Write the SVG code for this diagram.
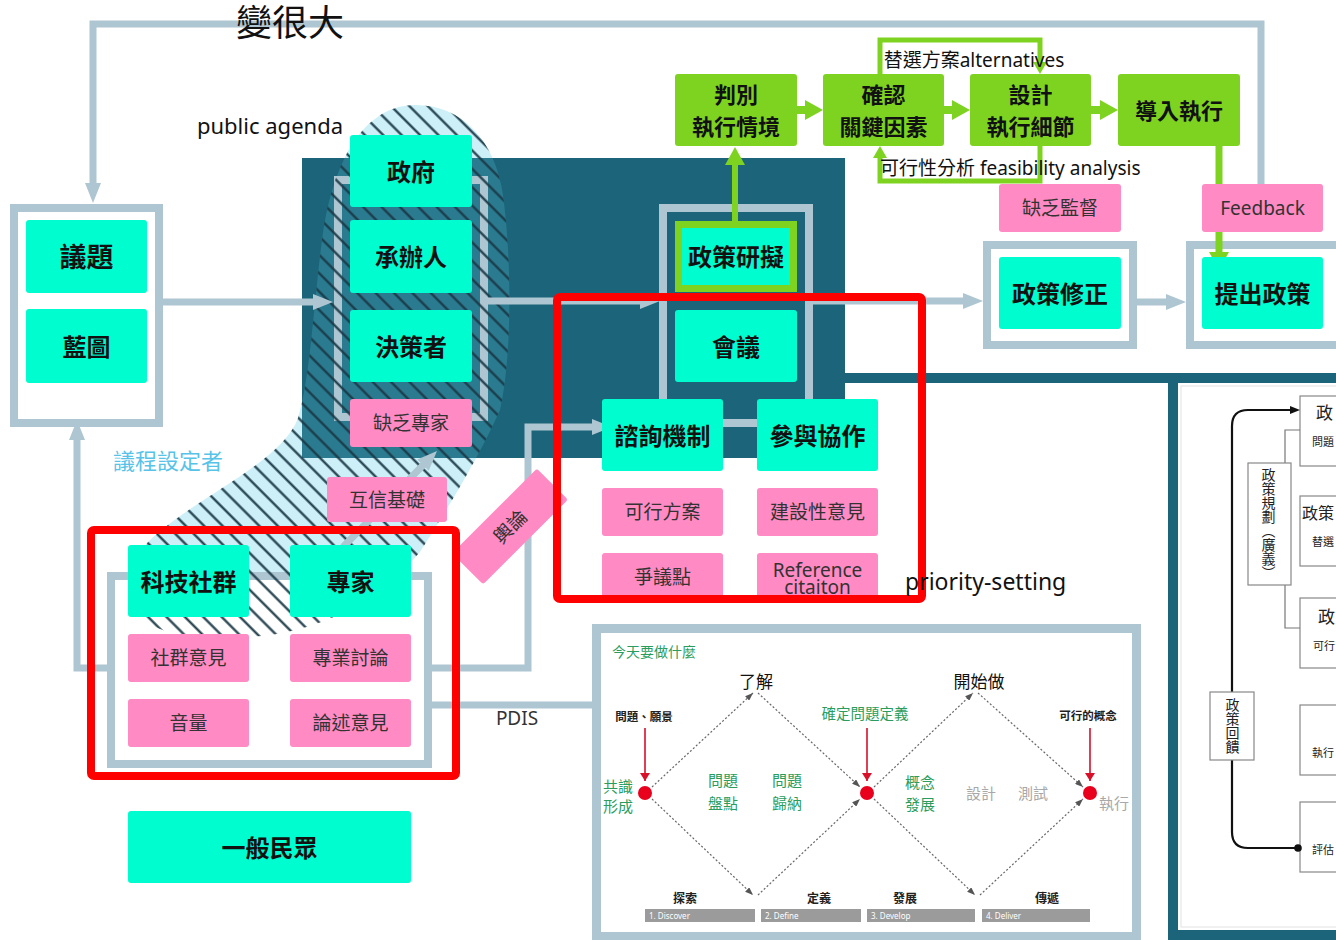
<svg xmlns="http://www.w3.org/2000/svg" width="1336" height="940" viewBox="0 0 1336 940">
<defs>
<style>
.t{font-family:"Noto Sans","Noto Sans CJK TC",sans-serif}
.cy{fill:#00fdd0}
.pk{fill:#ff8ac4}
.gb{fill:#7ed321}
.fr{fill:none;stroke:#aec6d2;stroke-width:8}
.frw{fill:#fff;stroke:#aec6d2;stroke-width:8}
.con{fill:none;stroke:#aec6d2;stroke-width:7}
.gc{fill:none;stroke:#7ed321}
.lb{font-size:24px;font-weight:700;fill:#111;text-anchor:middle;dominant-baseline:central}
.gl{font-size:22px;font-weight:700;fill:#111;text-anchor:middle;dominant-baseline:central}
.pl{font-size:19px;fill:#333;text-anchor:middle;dominant-baseline:central}
.red{fill:none;stroke:#ff0000;stroke-width:8}
.dot{fill:none;stroke:#666;stroke-width:1.2;stroke-dasharray:2 2}
.ra{stroke:#d8102a;stroke-width:1.6}
.rd{fill:#e8001c}
.sg{fill:#2a9d5e}
.rb{fill:#fff;stroke:#888;stroke-width:1.2}
.vt{font-size:14px;fill:#222;text-anchor:middle;writing-mode:vertical-rl}
</style>
<marker id="ah" viewBox="0 0 20 16" markerWidth="20" markerHeight="16" refX="8" refY="8" orient="auto" markerUnits="userSpaceOnUse"><path d="M0,0 L20,8 L0,16 z" fill="#aec6d2"/></marker>
<marker id="gh" viewBox="0 0 18 20" markerWidth="18" markerHeight="20" refX="6" refY="10" orient="auto" markerUnits="userSpaceOnUse"><path d="M0,0 L18,10 L0,20 z" fill="#7ed321"/></marker>
<marker id="gs" viewBox="0 0 12 14" markerWidth="12" markerHeight="14" refX="4" refY="7" orient="auto" markerUnits="userSpaceOnUse"><path d="M0,0 L12,7 L0,14 z" fill="#7ed321"/></marker>
<marker id="dh" viewBox="0 0 8 6" markerWidth="8" markerHeight="6" refX="8" refY="3" orient="auto" markerUnits="userSpaceOnUse"><path d="M0,0 L8,3 L0,6 z" fill="#555"/></marker>
<marker id="rh" viewBox="0 0 8 10" markerWidth="8" markerHeight="10" refX="8" refY="5" orient="auto" markerUnits="userSpaceOnUse"><path d="M0,0 L8,5 L0,10 z" fill="#d8102a"/></marker>
<marker id="bh" viewBox="0 0 10 8" markerWidth="10" markerHeight="8" refX="0" refY="4" orient="auto" markerUnits="userSpaceOnUse"><path d="M0,0 L10,4 L0,8 z" fill="#111"/></marker>
<pattern id="hatch" width="13" height="13" patternUnits="userSpaceOnUse" patternTransform="rotate(-45)"><line x1="6.5" y1="0" x2="6.5" y2="13" stroke="#1a3846" stroke-width="2.2"/></pattern>
<clipPath id="pclip"><rect x="302" y="158" width="543" height="300"/></clipPath>
<path id="blob" d="M415,105 C462,105 495,140 503,195 C512,260 512,360 500,410 C480,455 450,505 420,552 C385,592 335,628 262,636 C205,641 150,636 138,612 C128,590 132,556 152,538 C200,495 282,462 298,418 C310,380 314,300 322,240 C332,160 365,105 415,105 Z"/>
</defs>

<rect x="0" y="0" width="1336" height="940" fill="#fff"/>

<!-- background panels -->
<g id="panels">
  <use href="#blob" fill="#cdf0f8"/>
  <rect x="302" y="158" width="543" height="300" fill="#1b6479"/>
  <use href="#blob" fill="#2a7b90" clip-path="url(#pclip)"/>
  <rect x="845" y="373" width="491" height="10" fill="#1b6479"/>
  <rect x="1168" y="373" width="10" height="567" fill="#1b6479"/>
  <rect x="1168" y="930" width="168" height="10" fill="#1b6479"/>
  <rect x="1181" y="386" width="170" height="541" fill="#fff" stroke="#e2e2e2" stroke-width="1"/>
</g>

<!-- right embedded policy-cycle picture -->
<g id="policy-cycle" class="t">
  <rect class="rb" x="1300" y="396" width="60" height="70"/>
  <rect class="rb" x="1300" y="496" width="60" height="70"/>
  <rect class="rb" x="1300" y="598" width="60" height="70"/>
  <rect class="rb" x="1300" y="705" width="60" height="70"/>
  <rect class="rb" x="1300" y="802" width="60" height="70"/>
  <text x="1316" y="419" font-size="17" fill="#222">政</text>
  <text x="1312" y="446" font-size="11" fill="#222">問題</text>
  <text x="1302" y="519" font-size="16" fill="#222">政策</text>
  <text x="1312" y="546" font-size="11" fill="#222">替選</text>
  <text x="1318" y="623" font-size="17" fill="#222">政</text>
  <text x="1313" y="650" font-size="11" fill="#222">可行</text>
  <text x="1312" y="757" font-size="11" fill="#222">執行</text>
  <text x="1312" y="854" font-size="11" fill="#222">評估</text>
  <path d="M1300,430 H1285 V463 M1285,585 V628 H1300" fill="none" stroke="#777" stroke-width="1.2"/>
  <path d="M1296,848 H1248 Q1232,848 1232,832 V426 Q1232,410 1248,410 H1290" fill="none" stroke="#111" stroke-width="2.2" marker-end="url(#bh)"/>
  <circle cx="1298" cy="848" r="3.8" fill="#111"/>
  <rect class="rb" x="1248" y="463" width="43" height="122"/>
  <text class="vt" x="1268" y="524">政策規劃（廣義）</text>
  <rect class="rb" x="1210" y="692" width="44" height="68"/>
  <text class="vt" x="1232" y="726">政策回饋</text>
</g>

<!-- PDIS embedded slide -->
<g id="pdis-slide" class="t">
  <rect x="596.5" y="628.5" width="540" height="308" fill="#fff" stroke="#aec6d2" stroke-width="9"/>
  <text x="612" y="657" font-size="14" class="sg">今天要做什麼</text>
  <text x="756" y="688" font-size="17" fill="#111" text-anchor="middle">了解</text>
  <text x="979" y="688" font-size="17" fill="#111" text-anchor="middle">開始做</text>
  <text x="644" y="721" font-size="11.5" font-weight="700" fill="#222" text-anchor="middle">問題、願景</text>
  <text x="865" y="719" font-size="14.5" class="sg" text-anchor="middle">確定問題定義</text>
  <text x="1088" y="720" font-size="11.5" font-weight="700" fill="#222" text-anchor="middle">可行的概念</text>
  <line class="ra" x1="645" y1="728" x2="645" y2="781" marker-end="url(#rh)"/>
  <line class="ra" x1="867" y1="728" x2="867" y2="781" marker-end="url(#rh)"/>
  <line class="ra" x1="1090" y1="728" x2="1090" y2="781" marker-end="url(#rh)"/>
  <circle class="rd" cx="645" cy="793" r="7"/>
  <circle class="rd" cx="867" cy="793" r="7"/>
  <circle class="rd" cx="1090" cy="793" r="7"/>
  <line class="dot" x1="652" y1="787" x2="753" y2="693" marker-end="url(#dh)"/>
  <line class="dot" x1="758" y1="693" x2="860" y2="787" marker-end="url(#dh)"/>
  <line class="dot" x1="652" y1="799" x2="753" y2="895" marker-end="url(#dh)"/>
  <line class="dot" x1="758" y1="895" x2="860" y2="799" marker-end="url(#dh)"/>
  <line class="dot" x1="874" y1="787" x2="973" y2="693" marker-end="url(#dh)"/>
  <line class="dot" x1="978" y1="693" x2="1083" y2="787" marker-end="url(#dh)"/>
  <line class="dot" x1="874" y1="799" x2="975" y2="895" marker-end="url(#dh)"/>
  <line class="dot" x1="980" y1="895" x2="1083" y2="799" marker-end="url(#dh)"/>
  <g font-size="15" class="sg" text-anchor="middle">
    <text x="618" y="792">共識</text><text x="618" y="812">形成</text>
    <text x="723" y="786">問題</text><text x="723" y="809">盤點</text>
    <text x="787" y="786">問題</text><text x="787" y="809">歸納</text>
    <text x="920" y="788">概念</text><text x="920" y="810">發展</text>
  </g>
  <g font-size="15" fill="#a8a8a8" text-anchor="middle">
    <text x="981" y="799">設計</text><text x="1033" y="799">測試</text><text x="1114" y="809">執行</text>
  </g>
  <g font-size="12" font-weight="700" fill="#222" text-anchor="middle">
    <text x="685" y="903">探索</text><text x="819" y="903">定義</text><text x="905" y="903">發展</text><text x="1047" y="903">傳遞</text>
  </g>
  <rect x="645" y="909" width="110" height="13" fill="#9b9b9b"/>
  <rect x="761" y="909" width="100" height="13" fill="#9b9b9b"/>
  <rect x="867" y="909" width="108" height="13" fill="#9b9b9b"/>
  <rect x="982" y="909" width="108" height="13" fill="#9b9b9b"/>
  <g font-size="8" fill="#fff">
    <text x="649" y="918.5">1. Discover</text><text x="765" y="918.5">2. Define</text><text x="871" y="918.5">3. Develop</text><text x="986" y="918.5">4. Deliver</text>
  </g>
</g>

<!-- group frames -->
<g id="frames">
  <rect class="frw" x="14" y="208" width="145" height="215"/>
  <rect class="fr" x="338" y="180" width="146" height="237"/>
  <rect class="fr" x="663" y="208" width="146" height="215"/>
  <rect class="frw" x="987" y="245" width="146" height="100"/>
  <rect class="frw" x="1190" y="245" width="170" height="100"/>
  <rect class="frw" x="111" y="576" width="317" height="188"/>
</g>

<!-- agenda-setter hatched area -->
<g id="agenda-setters-area">
  <use href="#blob" fill="url(#hatch)"/>
</g>

<!-- connectors -->
<g id="connectors">
  <path class="con" d="M1261,184 V24 H93 V191" marker-end="url(#ah)"/>
  <path class="con" d="M163,302 H321" marker-end="url(#ah)"/>
  <path class="con" d="M108,668 H77 V432" marker-end="url(#ah)"/>
  <path class="con" d="M488,301 H648" marker-end="url(#ah)"/>
  <path class="con" d="M813,301 H971" marker-end="url(#ah)"/>
  <path class="con" d="M1137,302 H1174" marker-end="url(#ah)"/>
  <path class="con" d="M432,668 H528 V427 H600" marker-end="url(#ah)"/>
  <path class="con" d="M432,705 H592"/>
  <path class="con" stroke-width="6" d="M343,547 L428.6,459.5" marker-end="url(#ah)"/>
  <path class="gc" stroke-width="6" d="M735,221 V159" marker-end="url(#gh)"/>
  <path class="gc" stroke-width="8" d="M797,110 H811" marker-end="url(#gh)"/>
  <path class="gc" stroke-width="8" d="M944,110 H958" marker-end="url(#gh)"/>
  <path class="gc" stroke-width="8" d="M1091,110 H1106" marker-end="url(#gh)"/>
  <path class="gc" stroke-width="5" d="M880,74 V40 H1040 V66" marker-end="url(#gs)"/>
  <path class="gc" stroke-width="5" d="M1040,146 V181 H880 V154" marker-end="url(#gs)"/>
  <path class="gc" stroke-width="7" d="M1219,146 V258" marker-end="url(#gh)"/>
</g>

<!-- nodes -->
<g class="t">
<g id="n-yiti"><rect class="cy" x="26" y="220" width="121" height="73" rx="3"/><text class="lb" x="86.5" y="256.5" style="font-size:27px">議題</text></g>
<g id="n-lantu"><rect class="cy" x="26" y="309" width="121" height="74" rx="3"/><text class="lb" x="86.5" y="346">藍圖</text></g>
<g id="n-zhengfu"><rect class="cy" x="350" y="135" width="122" height="72" rx="3"/><text class="lb" x="411" y="171">政府</text></g>
<g id="n-chengban"><rect class="cy" x="350" y="220" width="122" height="73" rx="3"/><text class="lb" x="411" y="256.5">承辦人</text></g>
<g id="n-juece"><rect class="cy" x="350" y="310" width="122" height="72" rx="3"/><text class="lb" x="411" y="346">決策者</text></g>
<g id="n-quefa-zhuanjia"><rect class="pk" x="350" y="399" width="122" height="48" rx="3"/><text class="pl" x="411" y="423">缺乏專家</text></g>
<g id="n-huxin"><rect class="pk" x="327" y="477" width="120" height="45" rx="3"/><text class="pl" x="387" y="499.5">互信基礎</text></g>
<g id="n-yulun" transform="translate(510,526.5) rotate(-45)"><rect class="pk" x="-60" y="-22" width="120" height="44" rx="3"/><text class="pl" x="0" y="0">輿論</text></g>
<g id="n-yanni"><rect class="cy" x="678.5" y="224.5" width="115" height="64" stroke="#7ed321" stroke-width="7"/><text class="lb" x="736" y="256.5">政策研擬</text></g>
<g id="n-huiyi"><rect class="cy" x="675" y="310" width="122" height="72" rx="3"/><text class="lb" x="736" y="346">會議</text></g>
<g id="n-zixun"><rect class="cy" x="602" y="399" width="121" height="72" rx="3"/><text class="lb" x="662.5" y="435">諮詢機制</text></g>
<g id="n-canyu"><rect class="cy" x="757" y="399" width="121" height="72" rx="3"/><text class="lb" x="817.5" y="435">參與協作</text></g>
<g id="n-kexing"><rect class="pk" x="602" y="488" width="121" height="48" rx="3"/><text class="pl" x="662.5" y="512">可行方案</text></g>
<g id="n-jianshe"><rect class="pk" x="757" y="488" width="121" height="48" rx="3"/><text class="pl" x="817.5" y="512">建設性意見</text></g>
<g id="n-zhengyi"><rect class="pk" x="602" y="553" width="121" height="46" rx="3"/><text class="pl" x="662.5" y="577">爭議點</text></g>
<g id="n-reference"><rect class="pk" x="757" y="553" width="121" height="46" rx="3"/><text class="pl" style="dominant-baseline:auto" x="817.5" y="577"><tspan x="817.5" y="577">Reference</tspan><tspan x="817.5" y="594">citaiton</tspan></text></g>
<g id="n-keji"><rect class="cy" x="128" y="545" width="121" height="72" rx="3"/><text class="lb" x="188.5" y="581">科技社群</text></g>
<g id="n-zhuanjia"><rect class="cy" x="290" y="545" width="121" height="72" rx="3"/><text class="lb" x="350.5" y="581">專家</text></g>
<g id="n-shequn"><rect class="pk" x="128" y="634" width="121" height="48" rx="3"/><text class="pl" x="188.5" y="658">社群意見</text></g>
<g id="n-zhuanye"><rect class="pk" x="290" y="634" width="121" height="48" rx="3"/><text class="pl" x="350.5" y="658">專業討論</text></g>
<g id="n-yinliang"><rect class="pk" x="128" y="699" width="121" height="48" rx="3"/><text class="pl" x="188.5" y="723">音量</text></g>
<g id="n-lunshu"><rect class="pk" x="290" y="699" width="121" height="48" rx="3"/><text class="pl" x="350.5" y="723">論述意見</text></g>
<g id="n-minzhong"><rect class="cy" x="128" y="811" width="283" height="72" rx="3"/><text class="lb" x="269.5" y="847">一般民眾</text></g>
<g id="n-panbie"><rect class="gb" x="675" y="74" width="122" height="72" rx="3"/><text class="gl" x="736" y="94">判別</text><text class="gl" x="736" y="126">執行情境</text></g>
<g id="n-queren"><rect class="gb" x="823" y="74" width="121" height="72" rx="3"/><text class="gl" x="883.5" y="94">確認</text><text class="gl" x="883.5" y="126">關鍵因素</text></g>
<g id="n-sheji"><rect class="gb" x="970" y="74" width="121" height="72" rx="3"/><text class="gl" x="1030.5" y="94">設計</text><text class="gl" x="1030.5" y="126">執行細節</text></g>
<g id="n-daoru"><rect class="gb" x="1118" y="74" width="122" height="72" rx="3"/><text class="gl" x="1179" y="110">導入執行</text></g>
<g id="n-quefa-jiandu"><rect class="pk" x="999" y="184" width="122" height="48" rx="3"/><text class="pl" x="1060" y="208">缺乏監督</text></g>
<g id="n-feedback"><rect class="pk" x="1202" y="184" width="121" height="48" rx="3"/><text class="pl" x="1262.5" y="208">Feedback</text></g>
<g id="n-xiuzheng"><rect class="cy" x="999" y="257" width="122" height="72" rx="3"/><text class="lb" x="1060" y="293">政策修正</text></g>
<g id="n-tichu"><rect class="cy" x="1202" y="257" width="121" height="72" rx="3"/><text class="lb" x="1262.5" y="293">提出政策</text></g>
</g>

<!-- red highlight frames -->
<g id="highlights">
  <rect class="red" x="91" y="530" width="365" height="246" rx="3"/>
  <rect class="red" x="557" y="297" width="365" height="302" rx="3"/>
</g>

<!-- free labels -->
<g id="labels" class="t">
  <text x="290" y="36" font-size="36" fill="#111" text-anchor="middle">變很大</text>
  <text x="270" y="134" font-size="22" fill="#111" text-anchor="middle">public agenda</text>
  <text x="168" y="460" font-size="22" fill="#58c3e8" text-anchor="middle" dominant-baseline="central">議程設定者</text>
  <text x="974" y="67" font-size="19" fill="#111" text-anchor="middle">替選方案alternatives</text>
  <text x="880" y="175" font-size="19" fill="#111">可行性分析 feasibility analysis</text>
  <text x="905" y="590" font-size="23" fill="#111">priority-setting</text>
  <text x="517" y="718" font-size="19" fill="#333" text-anchor="middle" dominant-baseline="central">PDIS</text>
</g>
</svg>
